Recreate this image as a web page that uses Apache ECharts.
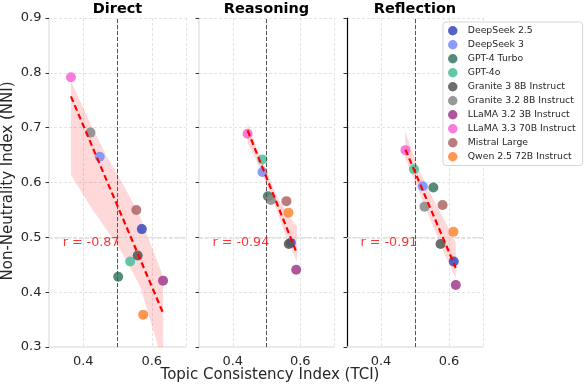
<!DOCTYPE html>
<html><head><meta charset="utf-8">
<script src="https://cdn.jsdelivr.net/npm/echarts@6/dist/echarts.min.js"></script>
<style>html,body{margin:0;padding:0;background:#fff}#c{width:588px;height:384px}</style>
</head><body><div id="c"></div>
<script>
// ---------- data ----------
const panels = ['Direct', 'Reasoning', 'Reflection'];
const models = ['DeepSeek 2.5', 'DeepSeek 3', 'GPT-4 Turbo', 'GPT-4o', 'Granite 3 8B Instruct',
  'Granite 3.2 8B Instruct', 'LLaMA 3.2 3B Instruct', 'LLaMA 3.3 70B Instruct', 'Mistral Large', 'Qwen 2.5 72B Instruct'];
const colors = ['#3f4dbd', '#7b8ef7', '#3f7b69', '#4fbf9b', '#585858', '#8a8a8a', '#a2418f', '#f76ad8', '#b06a6a', '#fb8a3a'];

const tciDirect = [0.571, 0.448, 0.502, 0.537, 0.559, 0.421, 0.633, 0.364, 0.555, 0.575];
const nniDirect = [0.515, 0.647, 0.428, 0.456, 0.467, 0.691, 0.421, 0.792, 0.550, 0.359];
const tciReasoning = [0.572, 0.488, 0.504, 0.488, 0.566, 0.513, 0.588, 0.444, 0.559, 0.565];
const nniReasoning = [0.490, 0.619, 0.575, 0.642, 0.488, 0.568, 0.441, 0.689, 0.566, 0.545];
const tciReflection = [0.614, 0.523, 0.554, 0.497, 0.575, 0.528, 0.620, 0.472, 0.581, 0.613];
const nniReflection = [0.456, 0.593, 0.591, 0.624, 0.488, 0.556, 0.413, 0.659, 0.559, 0.510];

// fitted regression lines (end points)
const fitX = [[0.364, 0.633], [0.444, 0.588], [0.472, 0.620]];
const fitY = [[0.757, 0.362], [0.695, 0.474], [0.660, 0.444]];
// confidence bands
const bandX = [[0.364, 0.420, 0.468, 0.517, 0.566, 0.633],
               [0.444, 0.470, 0.500, 0.530, 0.560, 0.590],
               [0.471, 0.500, 0.530, 0.560, 0.590, 0.620]];
const bandLo = [[0.614, 0.557, 0.514, 0.468, 0.411, 0.270],
                [0.672, 0.640, 0.596, 0.550, 0.498, 0.455],
                [0.645, 0.600, 0.555, 0.510, 0.465, 0.425]];
const bandHi = [[0.785, 0.709, 0.648, 0.596, 0.538, 0.429],
                [0.708, 0.665, 0.622, 0.576, 0.545, 0.520],
                [0.694, 0.642, 0.598, 0.562, 0.528, 0.490]];
const rTexts = ['r = -0.87', 'r = -0.94', 'r = -0.91'];
const rPos = [0.34, 0.49];
const refX = 0.5, refY = 0.5;
const xTickLabels = [0.4, 0.6];

const tci = [tciDirect, tciReasoning, tciReflection];
const nni = [nniDirect, nniReasoning, nniReflection];

// ---------- chart ----------
const FONT = '"DejaVu Sans", sans-serif';
const TXT = '#262626';
const gridPos = [{left: 49, top: 18, width: 137, height: 329},
                 {left: 199, top: 18, width: 135, height: 329},
                 {left: 347, top: 18, width: 136, height: 329}];

const grid = gridPos.map(g => Object.assign({containLabel: false}, g));
const xAxis = panels.map((p, i) => ({
  type: 'value', gridIndex: i, min: 0.3, max: 0.7, interval: 0.1,
  axisLine: {show: true, onZero: false, lineStyle: {color: '#e3e3e3', width: 1.5}},
  axisTick: {show: false},
  axisLabel: {margin: 8, fontSize: 13, color: TXT, fontFamily: FONT,
    formatter: v => xTickLabels.some(t => Math.abs(t - v) < 1e-6) ? v.toFixed(1) : ''},
  splitLine: {show: true, lineStyle: {color: ['transparent', '#dcdcdc', '#dcdcdc', '#dcdcdc', '#dcdcdc'], type: [3, 2], width: 0.8}}
}));
const yAxis = panels.map((p, i) => ({
  type: 'value', gridIndex: i, min: 0.3, max: 0.9, interval: 0.1,
  axisLine: {show: true, onZero: false, lineStyle: {color: i === 2 ? '#000' : '#e3e3e3', width: i === 2 ? 1.2 : 1.5}},
  axisTick: {show: true, length: 3.5, lineStyle: {color: '#333', width: 1}},
  axisLabel: {show: i === 0, margin: 7.5, fontSize: 13, color: TXT, fontFamily: FONT, formatter: v => v.toFixed(1)},
  splitLine: {show: true, lineStyle: {color: ['transparent', '#dcdcdc', '#dcdcdc', '#dcdcdc', '#dcdcdc', '#dcdcdc', '#dcdcdc'], type: [3, 2], width: 0.8}}
}));

const series = [];
panels.forEach((p, i) => {
  // reference lines
  series.push({
    type: 'line', xAxisIndex: i, yAxisIndex: i, data: [], z: 1, silent: true,
    markLine: {silent: true, symbol: 'none', label: {show: false}, animation: false,
      data: [
        {yAxis: refY, lineStyle: {color: '#dddddd', type: [4, 2], width: 1.6}},
        {xAxis: refX, lineStyle: {color: '#555555', type: [4, 2], width: 1}}
      ]}
  });
  // confidence band
  series.push({
    type: 'custom', xAxisIndex: i, yAxisIndex: i, z: 2, silent: true,
    data: [[bandX[i][0], bandLo[i][0]]],
    renderItem: (params, api) => {
      const pts = [];
      bandX[i].forEach((x, k) => pts.push(api.coord([x, bandHi[i][k]])));
      for (let k = bandX[i].length - 1; k >= 0; k--) pts.push(api.coord([bandX[i][k], bandLo[i][k]]));
      const cs = params.coordSys;
      return {type: 'polygon', shape: {points: pts}, style: {fill: 'rgba(255,0,0,0.15)'},
        clipPath: {type: 'rect', shape: {x: cs.x, y: cs.y, width: cs.width, height: cs.height}}};
    }
  });
  // points
  models.forEach((m, k) => {
    series.push({
      type: 'scatter', name: m, xAxisIndex: i, yAxisIndex: i, z: 3 + k * 0.01,
      symbolSize: 10, data: [[tci[i][k], nni[i][k]]],
      itemStyle: {color: colors[k], opacity: 0.88}
    });
  });
  // fit line
  series.push({
    type: 'line', xAxisIndex: i, yAxisIndex: i, z: 5, silent: true, symbol: 'none',
    data: [[fitX[i][0], fitY[i][0]], [fitX[i][1], fitY[i][1]]],
    lineStyle: {color: '#ff0000', type: [6, 3.5], width: 2.2}
  });
  // r label
  series.push({
    type: 'scatter', xAxisIndex: i, yAxisIndex: i, z: 6, silent: true, symbolSize: 0,
    data: [rPos],
    label: {show: true, position: 'right', distance: 0, formatter: rTexts[i], color: '#ff0000',
      fontSize: 12.7, fontFamily: FONT}
  });
});

const graphic = [];
panels.forEach((p, i) => {
  const g = gridPos[i];
  graphic.push({type: 'text', x: g.left + g.width / 2, y: 9, z: 10,
    style: {text: p, align: 'center', verticalAlign: 'middle', font: 'bold 14.5px "DejaVu Sans"', fill: '#000'}});
});
graphic.push({type: 'text', x: 270, y: 375, z: 10,
  style: {text: 'Topic Consistency Index (TCI)', align: 'center', verticalAlign: 'middle', font: '15px "DejaVu Sans"', fill: TXT}});
graphic.push({type: 'text', x: 8, y: 181, rotation: Math.PI / 2, z: 10,
  style: {text: 'Non-Neutrality Index (NNI)', align: 'center', verticalAlign: 'middle', font: '15px "DejaVu Sans"', fill: TXT}});

const chart = echarts.init(document.getElementById('c'), null, {renderer: 'canvas'});
chart.setOption({
  animation: false,
  backgroundColor: '#fff',
  grid, xAxis, yAxis, series, graphic,
  legend: {
    data: models, orient: 'vertical', left: 443, top: 22, z: 20,
    icon: 'circle', itemWidth: 20, itemHeight: 9.5, itemGap: 4.5,
    padding: [4, 7, 4, 5],
    backgroundColor: 'rgba(255,255,255,0.85)', borderColor: '#d6d6d6', borderWidth: 1, borderRadius: 3,
    textStyle: {fontSize: 9.3, color: TXT, fontFamily: FONT},
    selectedMode: false
  }
});
</script>
</body></html>
